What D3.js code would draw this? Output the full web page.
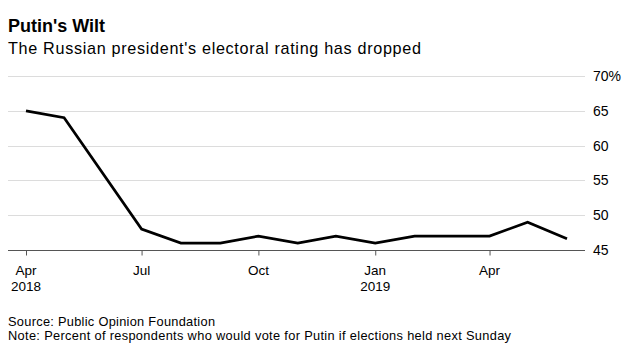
<!DOCTYPE html>
<html>
<head>
<meta charset="utf-8">
<script src="https://cdn.jsdelivr.net/npm/d3@7"></script>
<style>
  html, body { margin: 0; padding: 0; background: #fff; }
  svg { display: block; font-family: "Liberation Sans", Arial, sans-serif; }
</style>
</head>
<body>
<svg id="chart" width="630" height="355"></svg>
<script>
const dates = ["2018-04-01","2018-05-01","2018-07-01","2018-08-01","2018-09-01","2018-10-01","2018-11-01","2018-12-01","2019-01-01","2019-02-01","2019-03-01","2019-04-01","2019-05-01","2019-06-01"];
const values = [65, 64, 48, 46, 46, 47, 46, 47, 46, 47, 47, 47, 49, 46.6];
const yTicks = [45, 50, 55, 60, 65, 70];
const xTickDates = ["2018-04-01","2018-07-01","2018-10-01","2019-01-01","2019-04-01"];
const xTickMonth = ["Apr","Jul","Oct","Jan","Apr"];
const xTickYear = ["2018","","","2019",""];

(function () {
const parse = d3.timeParse("%Y-%m-%d");
const data = dates.map((d, i) => ({ date: parse(d), value: values[i] }));

const svg = d3.select("#chart");
const pLeft = 8, pRight = 585, pTop = 76, pBottom = 250;

const x = d3.scaleTime()
  .domain([parse("2018-04-01"), parse("2019-06-01")])
  .range([26, 567]);
const y = d3.scaleLinear().domain([45, 70]).range([pBottom, pTop]);

// Title
svg.append("text").attr("x", 8).attr("y", 31.5)
  .attr("font-size", 18).attr("font-weight", "bold").attr("fill", "#000")
  .text("Putin's Wilt");
svg.append("text").attr("x", 8).attr("y", 54)
  .attr("font-size", 16.2).attr("fill", "#000")
  .attr("textLength", 413).attr("lengthAdjust", "spacing")
  .text("The Russian president's electoral rating has dropped");

// Gridlines
svg.append("g").selectAll("line").data(yTicks.filter(t => t !== 45)).join("line")
  .attr("x1", pLeft).attr("x2", pRight)
  .attr("y1", d => Math.round(y(d)) + 0.5).attr("y2", d => Math.round(y(d)) + 0.5)
  .attr("stroke", "#dcdcdc").attr("stroke-width", 1);

// Y labels
svg.append("g").selectAll("text").data(yTicks).join("text")
  .attr("x", 593).attr("y", d => y(d) + 5)
  .attr("font-size", 14).attr("fill", "#000")
  .text(d => d === 70 ? "70%" : d);

// X axis
const xAxis = d3.axisBottom(x)
  .tickValues(xTickDates.map(parse))
  .tickSize(5)
  .tickFormat("");
const gx = svg.append("g").attr("transform", `translate(0,${pBottom + 0.5})`).call(xAxis);
gx.select(".domain").remove();
gx.selectAll(".tick line").attr("stroke", "#555");
svg.append("line").attr("x1", pLeft).attr("x2", pRight)
  .attr("y1", pBottom + 0.5).attr("y2", pBottom + 0.5)
  .attr("stroke", "#555").attr("stroke-width", 1);

const xl = svg.append("g").selectAll("g").data(xTickDates).join("g")
  .attr("transform", d => `translate(${x(parse(d))},0)`);
xl.append("text").attr("y", 275).attr("text-anchor", "middle")
  .attr("font-size", 13.5).attr("fill", "#000")
  .text((d, i) => xTickMonth[i]);
xl.append("text").attr("y", 291).attr("text-anchor", "middle")
  .attr("font-size", 13.5).attr("fill", "#000")
  .text((d, i) => xTickYear[i]);

// Line
const line = d3.line().x(d => x(d.date)).y(d => y(d.value));
svg.append("path").datum(data).attr("d", line)
  .attr("fill", "none").attr("stroke", "#000").attr("stroke-width", 2.7)
  .attr("stroke-linejoin", "miter");

// Footer
svg.append("text").attr("x", 8).attr("y", 325.5)
  .attr("font-size", 12.8).attr("fill", "#000")
  .attr("textLength", 207).attr("lengthAdjust", "spacing")
  .text("Source: Public Opinion Foundation");
svg.append("text").attr("x", 8).attr("y", 340)
  .attr("font-size", 12.8).attr("fill", "#000")
  .attr("textLength", 503).attr("lengthAdjust", "spacing")
  .text("Note: Percent of respondents who would vote for Putin if elections held next Sunday");
})();
</script>
</body>
</html>
